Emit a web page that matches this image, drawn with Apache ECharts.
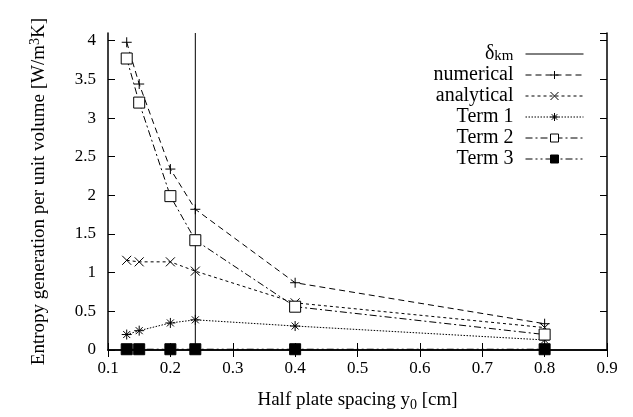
<!DOCTYPE html>
<html>
<head>
<meta charset="utf-8">
<script src="https://cdn.jsdelivr.net/npm/echarts@6/dist/echarts.min.js"></script>
<style>html,body{margin:0;padding:0;background:#fff}#main{width:633px;height:417px}</style>
</head>
<body>
<div id="main"></div>
<script>
var spacing = [0.13, 0.15, 0.2, 0.24, 0.4, 0.8];
var numerical = [3.98, 3.44, 2.34, 1.82, 0.87, 0.34];
var analytical = [1.16, 1.14, 1.14, 1.02, 0.61, 0.29];
var term1 = [0.2, 0.25, 0.35, 0.39, 0.31, 0.13];
var term2 = [3.77, 3.2, 1.99, 1.42, 0.56, 0.2];
var term3 = [0.01, 0.01, 0.01, 0.01, 0.01, 0.01];
var deltaX = [0.24, 0.24];
var deltaY = [0, 4.1];

function pairs(xs, ys) {
    return xs.map(function (x, i) { return [x, ys[i]]; });
}

var plusSym = 'path://M0,5L10,5M5,0L5,10';
var crossSym = 'path://M0,0L10,10M10,0L0,10';
var starSym = 'path://M0,5L10,5M5,0L5,10M1.5,1.5L8.5,8.5M8.5,1.5L1.5,8.5';
var font = '"Liberation Serif", "DejaVu Serif", serif';

function mk(name, data, symbol, size, dash, fill) {
    return {
        name: name,
        type: 'line',
        data: data,
        symbol: symbol,
        symbolSize: size,
        showSymbol: true,
        animation: false,
        lineStyle: { color: '#000', width: 1, type: dash },
        itemStyle: { color: fill, borderColor: '#000', borderWidth: 1 },
        z: 3
    };
}

var deltaSeries = mk('delta', pairs(deltaX, deltaY), 'circle', 1, 'solid', '#000');
deltaSeries.itemStyle = { color: 'rgba(0,0,0,0)', borderColor: 'rgba(0,0,0,0)', borderWidth: 0 };

var myChart = echarts.init(document.getElementById('main'));
var option = {
    animation: false,
    grid: { left: 108, right: 26, top: 33, bottom: 67 },
    legend: {
        orient: 'vertical',
        right: 44,
        top: 36,
        align: 'right',
        itemWidth: 58,
        itemHeight: 10,
        itemGap: 1,
        lineStyle: { width: 1 },
        itemStyle: { borderWidth: 1 },
        textStyle: {
            fontFamily: font, fontSize: 20, color: '#000', lineHeight: 20, padding: [0, 7, 0, 0],
            rich: { sub: { fontFamily: font, fontSize: 15, color: '#000', verticalAlign: 'bottom', lineHeight: 20, padding: [8, 0, 0, 0] },
                    base: { fontFamily: font, fontSize: 20, color: '#000', lineHeight: 20 } }
        },
        formatter: function (n) {
            if (n === 'delta') return '{base|δ}{sub|km}';
            return n;
        },
        data: ['delta', 'numerical', 'analytical', 'Term 1', 'Term 2', 'Term 3']
    },
    xAxis: [{
        type: 'value', min: 0.1, max: 0.9, interval: 0.1,
        name: 'Half plate spacing y{sub|0} [cm]',
        nameLocation: 'middle', nameGap: 39,
        nameTextStyle: {
            fontFamily: font, fontSize: 19, color: '#000',
            rich: { sub: { fontFamily: font, fontSize: 14, color: '#000', padding: [9, 0, 0, 0] } }
        },
        axisLine: { lineStyle: { color: '#000', width: 1.5 } },
        axisTick: { inside: true, length: 7, lineStyle: { color: '#000' } },
        axisLabel: { fontFamily: font, fontSize: 17, color: '#000', margin: 10,
            formatter: function (v) { return v.toFixed(1); } },
        splitLine: { show: false }
    }, {
        type: 'value', min: 0.1, max: 0.9, interval: 0.1, position: 'top',
        axisLine: { show: true, lineStyle: { color: '#000', width: 1.5 } },
        axisTick: { inside: true, length: 7, lineStyle: { color: '#000' } },
        axisLabel: { show: false },
        splitLine: { show: false }
    }],
    yAxis: [{
        type: 'value', min: 0, max: 4.1, interval: 0.5,
        name: 'Entropy generation per unit volume [W/m{sup|3}K]',
        nameLocation: 'middle', nameGap: 57,
        nameTextStyle: {
            fontFamily: font, fontSize: 19, color: '#000',
            rich: { sup: { fontFamily: font, fontSize: 14, color: '#000', padding: [0, 0, 9, 0] } }
        },
        axisLine: { show: true, lineStyle: { color: '#000', width: 1.5 } },
        axisTick: { inside: true, length: 7, lineStyle: { color: '#000' } },
        axisLabel: { fontFamily: font, fontSize: 17, color: '#000', margin: 12, showMaxLabel: false,
            formatter: function (v) { return String(Math.round(v * 10) / 10); } },
        splitLine: { show: false }
    }, {
        type: 'value', min: 0, max: 4.1, interval: 0.5, position: 'right',
        axisLine: { show: true, lineStyle: { color: '#000', width: 1.5 } },
        axisTick: { inside: true, length: 7, lineStyle: { color: '#000' } },
        axisLabel: { show: false },
        splitLine: { show: false }
    }],
    series: [
        deltaSeries,
        mk('numerical', pairs(spacing, numerical), plusSym, 10, [6, 4], '#000'),
        mk('analytical', pairs(spacing, analytical), crossSym, 9, [3, 3], '#000'),
        mk('Term 1', pairs(spacing, term1), starSym, 10, [1.5, 1.5], '#000'),
        mk('Term 2', pairs(spacing, term2), 'rect', 11, [7, 3, 2, 3], '#fff'),
        mk('Term 3', pairs(spacing, term3), 'rect', 11, [7, 3, 2, 3, 2, 3], '#000')
    ]
};
myChart.setOption(option);
</script>
</body>
</html>
